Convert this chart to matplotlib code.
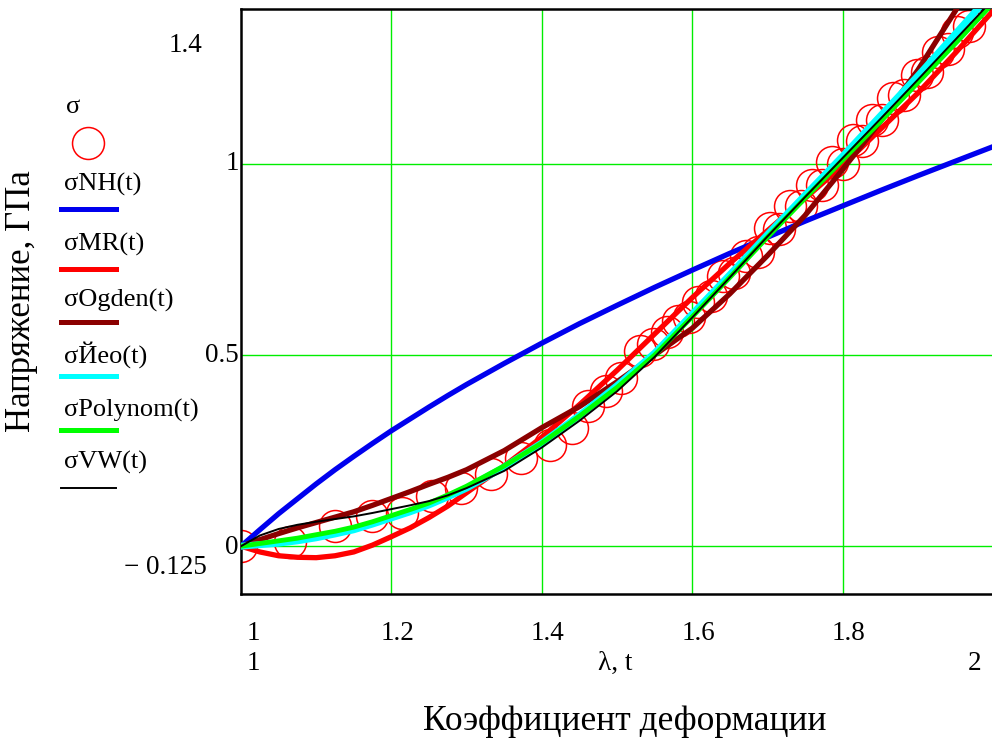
import matplotlib
matplotlib.use("Agg")
import matplotlib.pyplot as plt
from matplotlib.lines import Line2D

plt.rcParams['font.family'] = ['Liberation Serif', 'DejaVu Serif']

# experimental points (sigma)
exp_lam = [1.000, 1.065, 1.125, 1.174, 1.214, 1.254, 1.293, 1.333, 1.373, 1.411,
           1.440, 1.462, 1.485, 1.505, 1.531, 1.548, 1.566, 1.581, 1.596, 1.608,
           1.625, 1.641, 1.655, 1.672, 1.688, 1.703, 1.716, 1.730, 1.745, 1.759,
           1.772, 1.786, 1.800, 1.814, 1.826, 1.839, 1.853, 1.867, 1.882, 1.899,
           1.912, 1.927, 1.940, 1.952, 1.968]
exp_sig = [0.000, 0.011, 0.053, 0.079, 0.088, 0.131, 0.153, 0.188, 0.232, 0.266,
           0.310, 0.366, 0.405, 0.440, 0.510, 0.530, 0.560, 0.590, 0.600, 0.640,
           0.655, 0.706, 0.715, 0.758, 0.770, 0.832, 0.830, 0.889, 0.890, 0.945,
           0.945, 1.006, 1.000, 1.063, 1.060, 1.115, 1.115, 1.172, 1.180, 1.232,
           1.240, 1.293, 1.300, 1.345, 1.360]

# model curves
lam = [1.000, 1.025, 1.050, 1.075, 1.100, 1.125, 1.150, 1.175, 1.200, 1.225, 1.250,
       1.275, 1.300, 1.35, 1.40, 1.45, 1.50, 1.55, 1.60, 1.65, 1.70, 1.75, 1.80,
       1.85, 1.90, 1.95, 2.00]
sig_nh = [0.000, 0.043, 0.085, 0.124, 0.163, 0.200, 0.235, 0.269, 0.302, 0.333, 0.364,
          0.394, 0.423, 0.478, 0.531, 0.582, 0.630, 0.677, 0.722, 0.766, 0.808, 0.850,
          0.890, 0.930, 0.969, 1.007, 1.045]
sig_mr = [0.000, -0.015, -0.025, -0.029, -0.030, -0.025, -0.015, 0.003, 0.025, 0.048, 0.075,
          0.105, 0.140, 0.210, 0.285, 0.370, 0.460, 0.555, 0.650, 0.740, 0.825, 0.910,
          0.995, 1.090, 1.185, 1.290, 1.400]
sig_ogden = [0.000, 0.017, 0.033, 0.048, 0.062, 0.076, 0.090, 0.107, 0.125, 0.143, 0.162,
             0.180, 0.200, 0.250, 0.310, 0.365, 0.430, 0.500, 0.570, 0.660, 0.760, 0.865,
             0.985, 1.110, 1.245, 1.400, 1.570]
sig_yeoh = [0.000, 0.004, 0.008, 0.014, 0.022, 0.032, 0.043, 0.058, 0.074, 0.090, 0.108,
            0.129, 0.152, 0.207, 0.270, 0.342, 0.420, 0.505, 0.607, 0.710, 0.815, 0.918,
            1.020, 1.125, 1.230, 1.340, 1.450]
sig_poly = [0.000, 0.007, 0.014, 0.021, 0.030, 0.039, 0.050, 0.064, 0.080, 0.096, 0.113,
            0.134, 0.157, 0.210, 0.270, 0.340, 0.415, 0.500, 0.600, 0.703, 0.808, 0.910,
            1.010, 1.110, 1.212, 1.315, 1.420]
sig_vw = [0.000, 0.028, 0.045, 0.056, 0.064, 0.071, 0.078, 0.087, 0.097, 0.107, 0.118,
          0.133, 0.152, 0.197, 0.258, 0.328, 0.405, 0.495, 0.598, 0.703, 0.810, 0.913,
          1.015, 1.117, 1.220, 1.325, 1.430]

x_ticks = [1.2, 1.4, 1.6, 1.8]
y_ticks = [0, 0.5, 1]

W, H = 992, 749


def fx(px):
    return px / W


def fy(py):
    return 1 - py / H


fig = plt.figure(figsize=(W / 100, H / 100), dpi=100)
ax = fig.add_axes([fx(241), fy(594), fx(993) - fx(241), fy(9) - fy(594)])
ax.set_xlim(1, 2)
ax.set_ylim(-0.125, 1.405)

for xt in x_ticks:
    ax.axvline(xt, color='#00ee00', lw=1.0, zorder=1)
for yt in y_ticks:
    ax.axhline(yt, color='#00ee00', lw=1.0, zorder=1)

ax.plot(exp_lam, exp_sig, 'o', ms=23, mfc='none', mec='#ff0000', mew=1.1, zorder=2)
ax.plot(lam, sig_nh, color='#0000ee', lw=3.8, zorder=3)
ax.plot(lam, sig_mr, color='#ff0000', lw=3.8, zorder=3)
ax.plot(lam, sig_ogden, color='#8b0000', lw=3.8, zorder=3)
ax.plot(lam, sig_yeoh, color='#00ffff', lw=5.0, zorder=3)
ax.plot(lam, sig_poly, color='#00ff00', lw=3.5, zorder=3)
ax.plot(lam, sig_vw, color='black', lw=1.4, zorder=4)

ax.set_xticks([])
ax.set_yticks([])
ax.spines['right'].set_visible(False)
for s in ['left', 'top', 'bottom']:
    ax.spines[s].set_linewidth(1.8)

# Mathcad style labels
tick_fs = 19.5
for xt in [1.0] + x_ticks:
    lab = '1' if xt == 1.0 else str(xt)
    fig.text(fx(241 + (xt - 1) * 752 + (12 if xt == 1.0 else 6)), fy(634), lab,
             fontsize=tick_fs, ha='center', va='center')
fig.text(fx(253), fy(663), '1', fontsize=tick_fs, ha='center', va='center')
fig.text(fx(615), fy(663), 'λ, t', fontsize=tick_fs, ha='center', va='center')
fig.text(fx(975), fy(663), '2', fontsize=tick_fs, ha='center', va='center')
fig.text(fx(625), fy(721), 'Коэффициент деформации', fontsize=25.5, ha='center', va='center')

for yt, lab in [(0, '0'), (0.5, '0.5'), (1, '1')]:
    fig.text(fx(239), fy(547 - yt * 383), lab, fontsize=tick_fs, ha='right', va='center')
fig.text(fx(185), fy(45), '1.4', fontsize=tick_fs, ha='center', va='center')
fig.text(fx(165), fy(568), '\u2212 0.125', fontsize=tick_fs, ha='center', va='center')
fig.text(fx(22), fy(301), 'Напряжение, ГПа', fontsize=25, rotation=90, ha='center', va='center')

# legend
leg_fs = 19
fig.text(fx(66), fy(107), 'σ', fontsize=leg_fs, ha='left', va='center')
fig.add_artist(Line2D([fx(88)], [fy(143)], marker='o', ms=23, mfc='none', mec='#ff0000',
                      mew=1.1, transform=fig.transFigure))
entries = [('σNH(t)', 184, 209, '#0000ee', 3.6),
           ('σMR(t)', 244, 269, '#ff0000', 3.6),
           ('σOgden(t)', 300, 322, '#8b0000', 3.6),
           ('σЙео(t)', 355, 376, '#00ffff', 3.6),
           ('σPolynom(t)', 410, 430, '#00ff00', 3.6),
           ('σVW(t)', 462, 488, 'black', 1.4)]
for txt, ty, ly, col, lw in entries:
    fig.text(fx(64), fy(ty), txt, fontsize=leg_fs, ha='left', va='center')
    fig.add_artist(Line2D([fx(61), fx(116)], [fy(ly), fy(ly)], color=col, lw=lw,
                          transform=fig.transFigure))

fig.savefig('out.png', dpi=100)
